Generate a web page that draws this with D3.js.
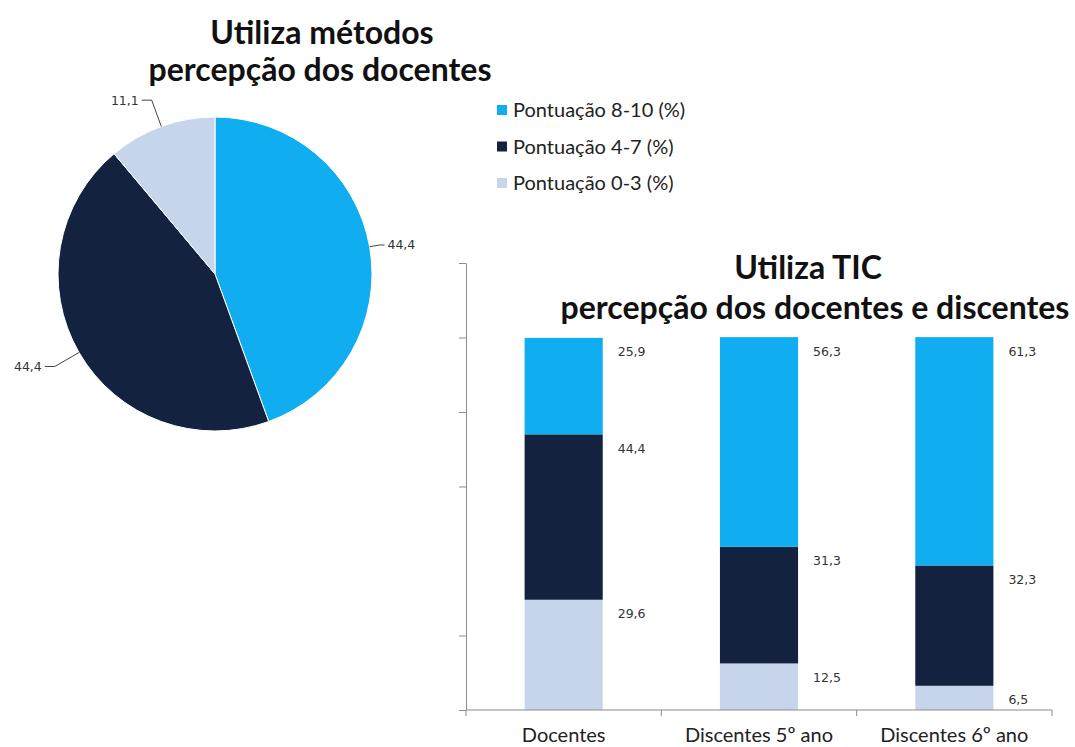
<!DOCTYPE html>
<html>
<head>
<meta charset="utf-8">
<script src="https://cdn.jsdelivr.net/npm/d3@7"></script>
<style>
  html, body { margin: 0; padding: 0; background: #fff; }
  svg { display: block; }
  .title { font-family: Lato, "Open Sans", sans-serif; font-weight: bold; font-size: 32px; fill: #111; }
  .legend text { font-family: Lato, "Open Sans", sans-serif; font-size: 20px; fill: #222; }
  .vlabel { font-family: "DejaVu Sans", sans-serif; font-size: 12.5px; fill: #333; }
  .cat { font-family: Lato, "Open Sans", sans-serif; font-size: 20px; fill: #222; }
  .axis path, .axis line { stroke: #8c8c8c; }
</style>
</head>
<body>
<svg id="chart" width="1075" height="747"></svg>
<script>
// series (legend order)
const seriesNames = ["Pontuação 8-10 (%)", "Pontuação 4-7 (%)", "Pontuação 0-3 (%)"];
const seriesColors = ["#10aef0", "#13233f", "#c7d5ec"];

// pie: "Utiliza métodos" – docentes
const pieValues = [44.4, 44.4, 11.1];

// stacked bars: "Utiliza TIC"
const categories = ["Docentes", "Discentes 5º ano", "Discentes 6º ano"];
const score8to10 = [25.9, 56.3, 61.3];
const score4to7 = [44.4, 31.3, 32.3];
const score0to3 = [29.6, 12.5, 6.5];
const yTicks = [0, 20, 60, 80, 100, 120];

const svg = d3.select("#chart");
const fmt = d3.formatLocale({decimal: ",", thousands: ".", grouping: [3], currency: ["", ""]}).format(".1f");

// ---------- pie ----------
const pieCx = 215, pieCy = 274, pieR = 157;
const pieG = svg.append("g").attr("transform", "translate(" + pieCx + "," + pieCy + ")");
const pie = d3.pie().sort(null).value(function(d) { return d; });
const arc = d3.arc().innerRadius(0).outerRadius(pieR);
const arcs = pie(pieValues);

pieG.selectAll("path.slice").data(arcs).enter().append("path")
  .attr("class", "slice")
  .attr("d", arc)
  .attr("fill", function(d, i) { return seriesColors[i]; })
  .attr("stroke", "#fff")
  .attr("stroke-width", 1);

// leader lines + labels (left side labels sit further out, like excel's best fit)
const edgeArc = d3.arc().innerRadius(pieR).outerRadius(pieR);
const pieLabels = pieG.selectAll("g.plabel").data(arcs).enter().append("g").attr("class", "plabel");
pieLabels.each(function(d) {
  const g = d3.select(this);
  const mid = (d.startAngle + d.endAngle) / 2;
  const right = mid < Math.PI;
  const r2 = right ? pieR + 10 : pieR + 28;
  const p0 = edgeArc.centroid(d);
  const p1 = d3.arc().innerRadius(r2).outerRadius(r2).centroid(d);
  const p2 = [p1[0] + (right ? 5 : -10), p1[1]];
  g.append("polyline")
    .attr("points", [p0, p1, p2].map(function(p) { return p.join(","); }).join(" "))
    .attr("fill", "none")
    .attr("stroke", "#444")
    .attr("stroke-width", 1);
  g.append("text")
    .attr("class", "vlabel")
    .attr("x", p2[0] + (right ? 3 : -3))
    .attr("y", p2[1])
    .attr("dy", "0.35em")
    .attr("text-anchor", right ? "start" : "end")
    .text(fmt(d.data));
});

svg.append("text").attr("class", "title")
  .attr("x", 322).attr("y", 44).attr("text-anchor", "middle")
  .text("Utiliza métodos");
svg.append("text").attr("class", "title")
  .attr("x", 320).attr("y", 81).attr("text-anchor", "middle")
  .text("percepção dos docentes");

// ---------- legend ----------
const legend = svg.append("g").attr("class", "legend").attr("transform", "translate(497,110)");
const legItems = legend.selectAll("g").data(seriesNames).enter().append("g")
  .attr("transform", function(d, i) { return "translate(0," + i * 36.5 + ")"; });
legItems.append("rect")
  .attr("x", 0).attr("y", -5).attr("width", 10).attr("height", 10)
  .attr("fill", function(d, i) { return seriesColors[i]; });
legItems.append("text")
  .attr("x", 16).attr("y", 0).attr("dy", "0.35em")
  .text(function(d) { return d; });

// ---------- stacked bars ----------
const x = d3.scaleBand().domain(categories).range([466, 1052]).padding(0);
const y = d3.scaleLinear().domain([0, 120]).range([710, 263]);
const barW = x.bandwidth() * 0.4;

const rows = categories.map(function(c, i) {
  return {cat: c, s0: score0to3[i], s1: score4to7[i], s2: score8to10[i]};
});
// bottom to top: 0-3, 4-7, 8-10
const stack = d3.stack().keys(["s0", "s1", "s2"]);
const layers = stack(rows);
const layerColor = {s0: seriesColors[2], s1: seriesColors[1], s2: seriesColors[0]};

const barsG = svg.append("g");
const layerG = barsG.selectAll("g.layer").data(layers).enter().append("g")
  .attr("class", "layer")
  .attr("fill", function(d) { return layerColor[d.key]; });
layerG.selectAll("rect").data(function(d) { return d; }).enter().append("rect")
  .attr("x", function(d) { return x(d.data.cat) + (x.bandwidth() - barW) / 2; })
  .attr("y", function(d) { return y(d[1]); })
  .attr("width", barW)
  .attr("height", function(d) { return y(d[0]) - y(d[1]); });

layerG.selectAll("text").data(function(d) { return d.map(function(v) { return {v: v, key: d.key}; }); })
  .enter().append("text")
  .attr("class", "vlabel")
  .attr("x", function(d) { return x(d.v.data.cat) + (x.bandwidth() + barW) / 2 + 15; })
  .attr("y", function(d) { return y(d.v[1]) + 14; })
  .attr("dy", "0.35em")
  .text(function(d) { return fmt(d.v.data[d.key]); });

// y axis (no labels)
svg.append("g").attr("class", "axis")
  .attr("transform", "translate(466,0)")
  .call(d3.axisLeft(y).tickValues(yTicks).tickSize(7).tickSizeOuter(0).tickFormat(""));

// x axis: line + boundary ticks + category labels
const xAxisG = svg.append("g").attr("class", "axis").attr("transform", "translate(0,710)");
xAxisG.call(d3.axisBottom(x).tickSize(0).tickSizeOuter(0).tickFormat(""));
xAxisG.select(".domain").attr("d", "M" + x.range()[0] + ",0H" + x.range()[1]);
const bounds = categories.map(function(c) { return x(c); }).concat([x.range()[1]]);
xAxisG.selectAll("line.bound").data(bounds).enter().append("line")
  .attr("class", "bound")
  .attr("x1", function(d) { return d; }).attr("x2", function(d) { return d; })
  .attr("y1", 0).attr("y2", 6);
xAxisG.selectAll("text.cat").data(categories).enter().append("text")
  .attr("class", "cat")
  .attr("x", function(d) { return x(d) + x.bandwidth() / 2; })
  .attr("y", 32)
  .attr("text-anchor", "middle")
  .text(function(d) { return d; });

svg.append("text").attr("class", "title")
  .attr("x", 808).attr("y", 279).attr("text-anchor", "middle")
  .text("Utiliza TIC");
svg.append("text").attr("class", "title")
  .attr("x", 815).attr("y", 319).attr("text-anchor", "middle")
  .text("percepção dos docentes e discentes");
</script>
</body>
</html>
